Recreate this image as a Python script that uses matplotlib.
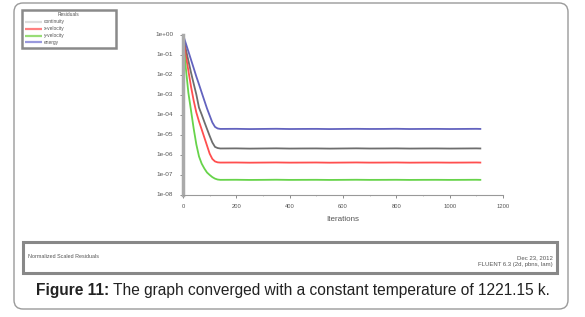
import numpy as np
import matplotlib.pyplot as plt
from matplotlib.patches import FancyBboxPatch, Rectangle

iterations = [0, 10, 20, 30, 40, 50, 60, 70, 80, 90, 100, 110, 120, 130, 140,
              200, 250, 300, 350, 400, 450, 500, 550, 600, 650, 700, 750, 800, 850, 900,
              950, 1000, 1050, 1100, 1115]

continuity = [8.0e-1, 2.0e-1, 5.0e-2, 1.26e-2, 3.5e-3, 1.0e-3, 2.2e-4, 1.0e-4, 4.3e-5,
              1.9e-5, 8.5e-6, 4.0e-6, 2.4e-6, 2.1e-6, 2.0e-6,
              2.02e-6, 1.97e-6, 2.0e-6, 2.03e-6, 1.98e-6, 2.0e-6, 2.01e-6, 1.97e-6, 2.0e-6,
              2.03e-6, 1.99e-6, 2.0e-6, 2.02e-6, 1.98e-6, 2.0e-6, 2.01e-6, 1.98e-6, 2.0e-6,
              2.02e-6, 2.0e-6]
x_velocity = [8.0e-1, 1.0e-1, 1.6e-2, 2.5e-3, 5.0e-4, 1.26e-4, 4.5e-5, 1.8e-5, 7.1e-6,
              2.8e-6, 1.1e-6, 6.0e-7, 4.5e-7, 4.05e-7, 3.95e-7,
              3.98e-7, 3.9e-7, 3.95e-7, 4.0e-7, 3.92e-7, 3.95e-7, 3.98e-7, 3.9e-7, 3.95e-7,
              4.0e-7, 3.93e-7, 3.95e-7, 3.99e-7, 3.91e-7, 3.95e-7, 3.97e-7, 3.92e-7, 3.95e-7,
              3.99e-7, 3.95e-7]
y_velocity = [5.0e-1, 2.5e-2, 1.26e-3, 1.6e-4, 2.0e-5, 3.2e-6, 8.0e-7, 3.5e-7, 2.0e-7,
              1.26e-7, 9.5e-8, 7.4e-8, 6.2e-8, 5.6e-8, 5.4e-8,
              5.45e-8, 5.35e-8, 5.4e-8, 5.48e-8, 5.37e-8, 5.4e-8, 5.43e-8, 5.35e-8, 5.4e-8,
              5.46e-8, 5.38e-8, 5.4e-8, 5.44e-8, 5.36e-8, 5.4e-8, 5.42e-8, 5.37e-8, 5.4e-8,
              5.45e-8, 5.4e-8]
energy = [1.0, 3.8e-1, 1.45e-1, 5.5e-2, 2.1e-2, 7.9e-3, 3.2e-3, 1.26e-3, 5.0e-4,
          2.0e-4, 8.9e-5, 4.0e-5, 2.4e-5, 2.0e-5, 1.9e-5,
          1.92e-5, 1.87e-5, 1.9e-5, 1.93e-5, 1.88e-5, 1.9e-5, 1.91e-5, 1.87e-5, 1.9e-5,
          1.92e-5, 1.89e-5, 1.9e-5, 1.93e-5, 1.88e-5, 1.9e-5, 1.91e-5, 1.88e-5, 1.9e-5,
          1.92e-5, 1.9e-5]

series_names = ["continuity", "x-velocity", "y-velocity", "energy"]
series_values = [continuity, x_velocity, y_velocity, energy]
series_colors = ["#555555", "#ff3030", "#4ccc2a", "#4848b4"]
legend_colors = ["#dddddd", "#ff8080", "#99dd77", "#9999dd"]

x_ticks = [0, 200, 400, 600, 800, 1000, 1200]
y_ticks = [1e-8, 1e-7, 1e-6, 1e-5, 1e-4, 1e-3, 1e-2, 1e-1, 1e0]
y_labels = ["1e-08", "1e-07", "1e-06", "1e-05", "1e-04", "1e-03", "1e-02", "1e-01", "1e+00"]

W, H = 585, 317
plt.rcParams['font.family'] = ['Liberation Sans', 'DejaVu Sans']
fig = plt.figure(figsize=(W / 100, H / 100), dpi=100)

# background layer in pixel coordinates
bg = fig.add_axes([0, 0, 1, 1], zorder=0)
bg.set_xlim(0, W)
bg.set_ylim(H, 0)
bg.axis("off")

bg.add_patch(FancyBboxPatch((14, 3), 554, 306, boxstyle="round,pad=0,rounding_size=9",
                            facecolor="white", edgecolor="#9a9a9a", linewidth=1.0))

# legend box
bg.add_patch(Rectangle((22, 10), 94, 38, facecolor="white", edgecolor="#8a8a8a", linewidth=1.8))
bg.text(69, 15, "Residuals", fontsize=3.5, color="#555555", ha="center", va="center")
for i, (name, col) in enumerate(zip(series_names, legend_colors)):
    y = 22 + i * 6.8
    bg.plot([25, 42], [y, y], color=col, linewidth=1.6, solid_capstyle="butt")
    bg.text(44, y, name, fontsize=3.5, color="#555555", va="center")

# footer box
bg.add_patch(Rectangle((23, 242), 534, 31, facecolor="white", edgecolor="#888888", linewidth=2.2))
bg.text(28, 256.5, "Normalized Scaled Residuals", fontsize=3.9, color="#555555", va="center")
bg.text(553, 258, "Dec 23, 2012", fontsize=4.3, color="#555555", va="center", ha="right")
bg.text(553, 264.5, "FLUENT 6.3 (2d, pbns, lam)", fontsize=4.3, color="#555555", va="center", ha="right")

# caption
cap1 = bg.text(36, 290.5, "Figure 11:", fontsize=11.2, fontweight="bold", color="#222222", va="center")
fig.canvas.draw()
bb = cap1.get_window_extent()
x_end = bg.transData.inverted().transform((bb.x1, bb.y0))[0]
bg.text(x_end + 3.5, 290.5, "The graph converged with a constant temperature of 1221.15 k.",
        fontsize=11.2, color="#222222", va="center")

# residual plot
ax = fig.add_axes([183 / W, 1 - 194.5 / H, 320 / W, 160 / H], zorder=1)
ax.patch.set_alpha(0)
for vals, col in zip(series_values, series_colors):
    ax.plot(iterations, vals, color=col, linewidth=1.3, alpha=0.85)

ax.set_yscale("log")
ax.set_xlim(0, 1200)
ax.set_ylim(1e-8, 1e0)
ax.set_xticks(x_ticks)
ax.set_xticklabels([str(t) for t in x_ticks])
ax.set_xticks(range(100, 1200, 200), minor=True)
ax.set_yticks(y_ticks)
ax.set_yticklabels(y_labels)
ax.tick_params(colors="#777777", length=2, width=0.6)
ax.tick_params(axis="y", labelsize=4.6, pad=5)
ax.tick_params(axis="x", labelsize=4.2, pad=5)
ax.tick_params(which="minor", length=1, width=0.4, colors="#999999")
for lbl in ax.get_xticklabels() + ax.get_yticklabels():
    lbl.set_color("#555555")
for side in ["top", "right"]:
    ax.spines[side].set_visible(False)
ax.spines["left"].set_color("#aaaaaa")
ax.spines["left"].set_linewidth(2.5)
ax.spines["bottom"].set_color("#999999")
ax.spines["bottom"].set_linewidth(0.8)
ax.set_xlabel("Iterations", fontsize=5.8, color="#555555", labelpad=5)

fig.savefig("out.png", dpi=100)
